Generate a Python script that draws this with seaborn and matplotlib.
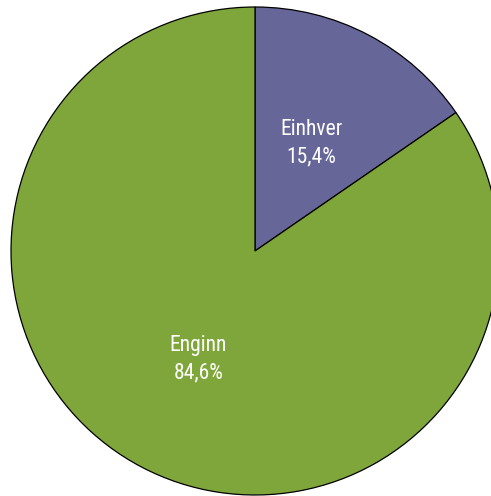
import matplotlib
matplotlib.use("Agg")
import matplotlib.pyplot as plt
import seaborn as sns

categories = ["Einhver", "Enginn"]
values = [15.4, 84.6]
colors = ["#666699", "#7fa63a"]

sns.set_theme(style="white")
plt.rcParams['font.family'] = ['Roboto Condensed', 'Roboto', 'DejaVu Sans']

W, H = 491, 496
fig = plt.figure(figsize=(W / 100, H / 100), dpi=100)
cx, cy, r = 255, 251, 244
ax = fig.add_axes([(cx - r) / W, (H - cy - r) / H, 2 * r / W, 2 * r / H])

palette = sns.color_palette(colors)
labels_iter = iter(categories)

def fmt(p):
    name = next(labels_iter)
    return f"{name}\n{p:.1f}%".replace(".", ",")

wedges, texts, autotexts = ax.pie(
    values, colors=palette, startangle=90, counterclock=False,
    radius=1, autopct=fmt, pctdistance=0.5,
    wedgeprops=dict(edgecolor="black", linewidth=0.9),
    textprops=dict(color="white", fontsize=15.5, linespacing=1.4),
    frame=False,
)
for w in wedges:
    w.set_clip_on(False)
ax.axis("off")
ax.set_aspect("auto")
ax.set_xlim(-1, 1)
ax.set_ylim(-1, 1)

fig.savefig("out.png", dpi=100)
